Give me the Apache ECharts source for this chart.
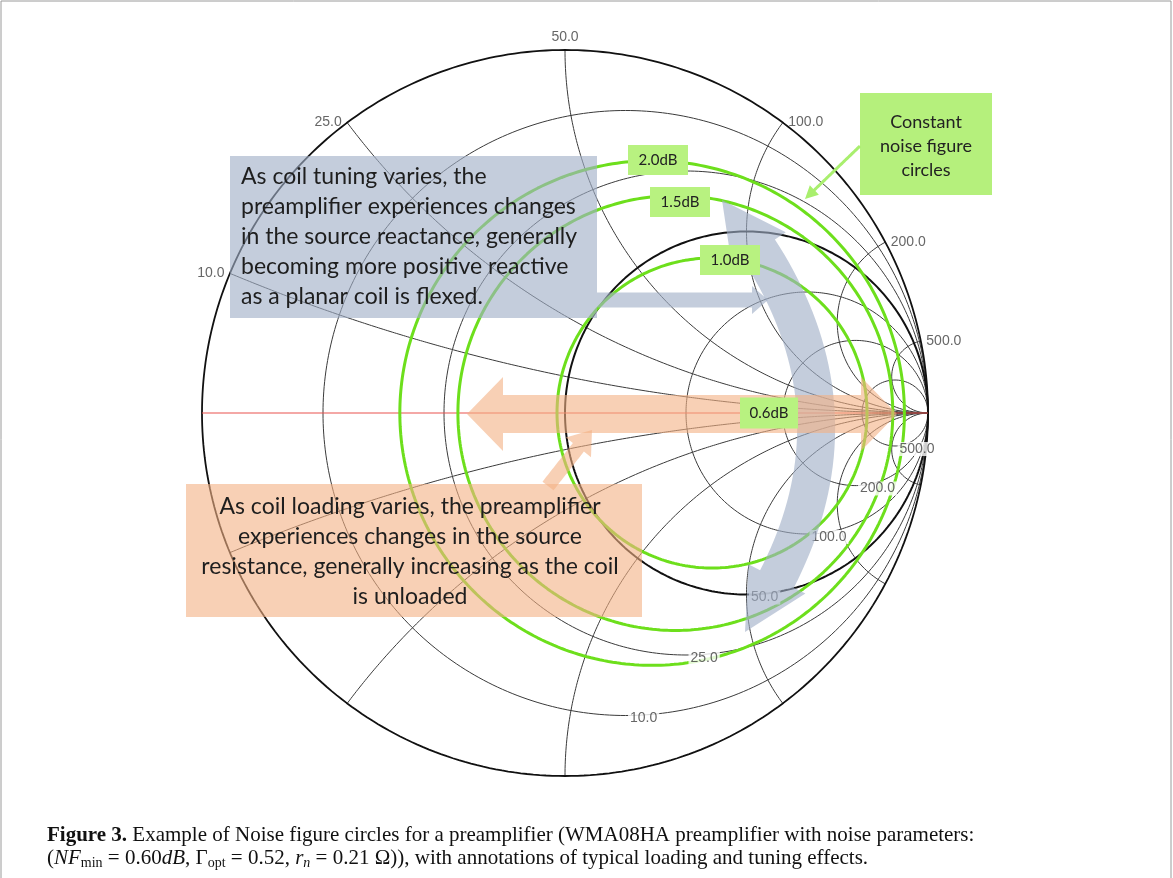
<!DOCTYPE html>
<html>
<head>
<meta charset="utf-8">
<script src="https://cdn.jsdelivr.net/npm/echarts@6/dist/echarts.min.js"></script>
<style>
  html, body { margin: 0; padding: 0; background: #fff; }
  #chart { width: 1173px; height: 878px; }
</style>
</head>
<body>
<div id="chart"></div>
<script>
// reference impedance and Smith chart grid (ohms)
const Z0 = 50;
const resistanceOhms = [10, 25, 50, 100, 200, 500];
const reactanceOhms = [10, 25, 50, 100, 200, 500];

// constant noise figure circles (normalised reflection plane)
const nfLabels = ['1.0dB', '1.5dB', '2.0dB'];
const nfCenters = [0.405, 0.304, 0.24];
const nfRadii = [0.427, 0.599, 0.695];
const gammaOpt = 0.52;

// point lists for the grid curves
function rCircle(r) {
  const c = r / (1 + r), R = 1 / (1 + r), pts = [];
  for (let i = 0; i <= 360; i++) {
    const a = i * Math.PI / 180;
    pts.push([c + R * Math.cos(a), R * Math.sin(a)]);
  }
  return pts;
}
function xArc(x) {
  const pts = [];
  for (let i = 0; i <= 300; i++) {
    const r = i === 300 ? 1e7 : Math.tan(i / 300 * Math.PI / 2);
    const d = (r + 1) * (r + 1) + x * x;
    pts.push([(r * r - 1 + x * x) / d, 2 * x / d]);
  }
  return pts;
}
function circle(c, R) {
  const pts = [];
  for (let i = 0; i <= 360; i++) {
    const a = i * Math.PI / 180;
    pts.push([c + R * Math.cos(a), R * Math.sin(a)]);
  }
  return pts;
}

// arrow outlines for the annotations (pixel space)
function bez(p0, p1, p2, n) {
  const a = [];
  for (let i = 0; i <= n; i++) {
    const t = i / n, m = 1 - t;
    a.push([m * m * p0[0] + 2 * m * t * p1[0] + t * t * p2[0],
            m * m * p0[1] + 2 * m * t * p1[1] + t * t * p2[1]]);
  }
  return a;
}
function arrow(path, w, hl, hw, both) {
  const L = [0];
  for (let i = 1; i < path.length; i++) {
    L.push(L[i - 1] + Math.hypot(path[i][0] - path[i - 1][0], path[i][1] - path[i - 1][1]));
  }
  const total = L[L.length - 1];
  const at = (s) => {
    let i = 1;
    while (i < path.length - 1 && L[i] < s) i++;
    const f = (s - L[i - 1]) / (L[i] - L[i - 1]);
    const a = path[i - 1], b = path[i];
    const len = Math.hypot(b[0] - a[0], b[1] - a[1]);
    return { p: [a[0] + (b[0] - a[0]) * f, a[1] + (b[1] - a[1]) * f],
             t: [(b[0] - a[0]) / len, (b[1] - a[1]) / len] };
  };
  const side = (s, off) => {
    const q = at(s);
    return [q.p[0] - q.t[1] * off, q.p[1] + q.t[0] * off];
  };
  const s0 = both ? hl : 0, s1 = total - hl;
  const left = [], right = [];
  for (let k = 0; k <= 40; k++) {
    const s = s0 + (s1 - s0) * k / 40;
    left.push(side(s, w / 2));
    right.push(side(s, -w / 2));
  }
  const poly = [];
  if (both) poly.push(at(0).p, side(s0, hw / 2));
  poly.push(...left, side(s1, hw / 2), at(total).p, side(s1, -hw / 2), ...right.reverse());
  if (both) poly.push(side(s0, -hw / 2));
  return poly;
}

const chart = echarts.init(document.getElementById('chart'), null, { renderer: 'canvas' });

const gridColor = '#3a3a3a';
const series = [];
const lineBase = { type: 'line', symbol: 'none', silent: true, animation: false, clip: false };

series.push(Object.assign({}, lineBase, {
  data: rCircle(0), lineStyle: { color: '#111', width: 1.8 }, z: 2
}));
resistanceOhms.forEach(o => {
  const r = o / Z0;
  series.push(Object.assign({}, lineBase, {
    data: rCircle(r),
    lineStyle: { color: r === 1 ? '#111' : gridColor, width: r === 1 ? 2 : 1 },
    z: r === 1 ? 2 : 1
  }));
});
reactanceOhms.forEach(o => {
  [1, -1].forEach(sgn => {
    series.push(Object.assign({}, lineBase, {
      data: xArc(sgn * o / Z0), lineStyle: { color: gridColor, width: 1 }, z: 1
    }));
  });
});
// real axis
series.push(Object.assign({}, lineBase, {
  data: [[-1, 0], [1, 0]], lineStyle: { color: '#e9534f', width: 1.2 }, z: 2
}));
// noise figure circles
nfCenters.forEach((c, i) => {
  series.push(Object.assign({}, lineBase, {
    name: nfLabels[i], data: circle(c, nfRadii[i]),
    lineStyle: { color: '#6ddf1c', width: 3 }, z: 3
  }));
});
// reactance labels around the rim
series.push({
  type: 'scatter', silent: true, animation: false, symbolSize: 1, z: 4,
  itemStyle: { color: 'rgba(0,0,0,0)' },
  label: { show: true, formatter: '{b}', distance: 5, color: '#404040', fontSize: 14, fontFamily: 'Liberation Sans' },
  data: reactanceOhms.map(o => {
    const x = o / Z0, d = 1 + x * x, u = (x * x - 1) / d, v = 2 * x / d;
    return { name: o.toFixed(1), value: [u, v],
             label: { position: Math.abs(u) < 0.05 ? 'top' : (u < 0 ? 'left' : 'right') } };
  })
});
// resistance labels at the bottom of each circle
series.push({
  type: 'scatter', silent: true, animation: false, symbolSize: 1, z: 4,
  itemStyle: { color: 'rgba(0,0,0,0)' },
  label: { show: true, formatter: '{b}', position: 'right', distance: 2, offset: [0, 3],
           color: '#404040', fontSize: 14, fontFamily: 'Liberation Sans',
           backgroundColor: '#fff', padding: [0, 2] },
  data: resistanceOhms.map(o => {
    const r = o / Z0;
    return { name: o.toFixed(1), value: [r / (1 + r), -1 / (1 + r)] };
  })
});

const greyFill = 'rgba(160,175,198,0.62)';
const orangeFill = 'rgba(244,177,131,0.6)';
const textFont = 'Lato, "Open Sans", sans-serif';

function tagBox(cx, cy, w, h, txt) {
  return [
    { type: 'rect', z: 20, shape: { x: cx - w / 2, y: cy - h / 2, width: w, height: h }, style: { fill: '#b8f280' } },
    { type: 'text', z: 21, x: cx, y: cy,
      style: { text: txt, font: '15px ' + textFont, fill: '#222', align: 'center', verticalAlign: 'middle',
               textAlign: 'center', textVerticalAlign: 'middle' } }
  ];
}

const graphic = [
  // frame
  { type: 'polyline', z: 1, shape: { points: [[1, 878], [1, 1], [1171, 1], [1171, 878]] },
    style: { stroke: '#9a9a9a', lineWidth: 1, fill: null } },
  // tuning box
  { type: 'rect', z: 10, shape: { x: 230, y: 156, width: 367, height: 162 }, style: { fill: greyFill } },
  { type: 'text', z: 15, x: 241, y: 162,
    style: { text: 'As coil tuning varies, the\npreamplifier experiences changes\nin the source reactance, generally\nbecoming more positive reactive\nas a planar coil is flexed.',
             font: '23px ' + textFont, lineHeight: 30, fill: '#1e1e1e', verticalAlign: 'top', textVerticalAlign: 'top' } },
  { type: 'polygon', z: 10, shape: { points: arrow([[597, 300], [768, 300]], 15, 16, 28, false) }, style: { fill: greyFill } },
  { type: 'polygon', z: 10, shape: { points: arrow(bez([722, 200], [898, 410], [745, 632], 80), 38, 62, 64, true) }, style: { fill: greyFill } },
  // loading box
  { type: 'rect', z: 10, shape: { x: 186, y: 484, width: 456, height: 133 }, style: { fill: orangeFill } },
  { type: 'text', z: 15, x: 410, y: 492,
    style: { text: 'As coil loading varies, the preamplifier\nexperiences changes in the source\nresistance, generally increasing as the coil\nis unloaded',
             font: '23px ' + textFont, lineHeight: 30, fill: '#1e1e1e', align: 'center', textAlign: 'center',
             verticalAlign: 'top', textVerticalAlign: 'top' } },
  { type: 'polygon', z: 10, shape: { points: arrow([[897, 414], [467, 414]], 38, 36, 74, true) }, style: { fill: orangeFill } },
  { type: 'polygon', z: 10, shape: { points: arrow([[548, 486], [592, 430]], 14, 22, 32, false) }, style: { fill: orangeFill } },
  // noise circle note
  { type: 'rect', z: 20, shape: { x: 860, y: 93, width: 132, height: 102 }, style: { fill: '#b5f07c' } },
  { type: 'text', z: 21, x: 926, y: 110,
    style: { text: 'Constant\nnoise figure\ncircles', font: '18px ' + textFont, lineHeight: 24, fill: '#222',
             align: 'center', textAlign: 'center', verticalAlign: 'top', textVerticalAlign: 'top' } },
  { type: 'polygon', z: 20, shape: { points: arrow([[860, 146], [805, 199]], 3, 13, 13, false) }, style: { fill: '#a9ef6e' } }
].concat(
  tagBox(658, 160, 60, 30, '2.0dB'),
  tagBox(680, 202, 60, 30, '1.5dB'),
  tagBox(730, 260, 60, 30, '1.0dB'),
  tagBox(769, 413, 58, 31, '0.6dB')
);

const serif = '"Liberation Serif", "DejaVu Serif", serif';
chart.setOption({
  animation: false,
  title: {
    left: 42, top: 819,
    text: '{b|Figure 3.} Example of Noise figure circles for a preamplifier (WMA08HA preamplifier with noise parameters:\n' +
          '({i|NF}{s|min} = 0.60{i|dB}, Γ{s|opt} = 0.52, {i|r}{si|n} = 0.21 Ω)), with annotations of typical loading and tuning effects.',
    textStyle: {
      fontFamily: serif, fontSize: 21, fontWeight: 'normal', color: '#111', lineHeight: 23,
      rich: {
        b: { fontFamily: serif, fontSize: 21, fontWeight: 'bold', color: '#111', lineHeight: 23 },
        i: { fontFamily: serif, fontSize: 21, fontStyle: 'italic', color: '#111', lineHeight: 23 },
        s: { fontFamily: serif, fontSize: 14, color: '#111', verticalAlign: 'bottom', lineHeight: 14 },
        si: { fontFamily: serif, fontSize: 14, fontStyle: 'italic', color: '#111', verticalAlign: 'bottom', lineHeight: 14 }
      }
    }
  },
  grid: { left: 202, top: 50, width: 726, height: 726 },
  xAxis: { type: 'value', min: -1, max: 1, show: false },
  yAxis: { type: 'value', min: -1, max: 1, show: false },
  series: series,
  graphic: graphic
});
</script>
</body>
</html>
